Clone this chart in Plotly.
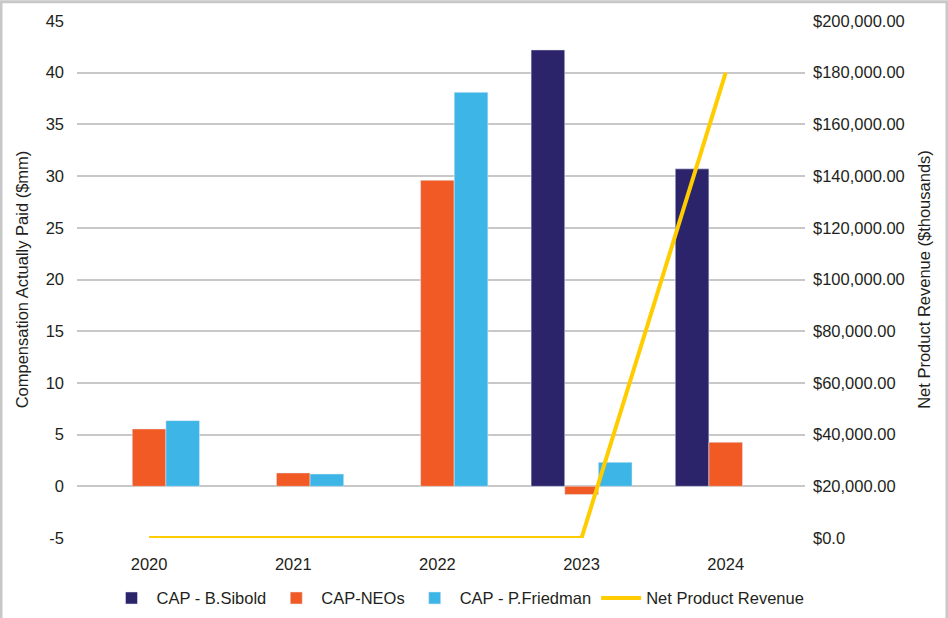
import plotly.graph_objects as go

years = ["2020", "2021", "2022", "2023", "2024"]
cap_sibold = [None, None, None, 42.2, 30.7]
cap_neos = [5.55, 1.29, 29.6, -0.8, 4.26]
cap_friedman = [6.35, 1.19, 38.1, 2.32, None]
net_revenue = [0, 0, 0, 0, 180000]

left_ticks = [-5, 0, 5, 10, 15, 20, 25, 30, 35, 40, 45]
left_labels = [str(v) for v in left_ticks]
right_ticks = [0, 20000, 40000, 60000, 80000, 100000, 120000, 140000, 160000, 180000, 200000]
right_labels = ["$0.0"] + ["${:,.2f}".format(v) for v in right_ticks[1:]]

font = "Liberation Sans, Arial, sans-serif"
txt = "#231f20"
fs = 16.5

fig = go.Figure()
fig.add_trace(go.Bar(x=years, y=cap_sibold, name="CAP - B.Sibold", marker_color="#2B246B"))
fig.add_trace(go.Bar(x=years, y=cap_neos, name="CAP-NEOs", marker_color="#F15A24"))
fig.add_trace(go.Bar(x=years, y=cap_friedman, name="CAP - P.Friedman", marker_color="#3DB5E6"))
fig.add_trace(go.Scatter(x=years, y=net_revenue, name="Net Product Revenue", mode="lines",
                         line=dict(color="#FFCC00", width=4), yaxis="y2"))

W, H = 948, 628
k = H / 618
L, R = 77, 143
T = round(21 * k)
B = H - round(535 * k)
pw, ph = W - L - R, H - T - B

fig.update_layout(
    width=W, height=H,
    margin=dict(l=L, r=R, t=T, b=B, pad=0),
    paper_bgcolor="white", plot_bgcolor="white",
    font=dict(family=font, size=fs, color=txt),
    barmode="group", bargap=0.3, bargroupgap=0,
    showlegend=True,
    legend=dict(orientation="h", x=(458 - L) / pw, xanchor="center", y=-(60 * k) / ph, yanchor="middle",
                font=dict(size=fs, color=txt), traceorder="normal", itemwidth=40),
    xaxis=dict(type="category", range=[-0.5, 4.55], showgrid=False, showline=False, zeroline=False,
               ticks="", ticklabelstandoff=14, tickfont=dict(size=fs, color=txt)),
    yaxis=dict(range=[-5, 45], tickvals=left_ticks, ticktext=left_labels, showgrid=True,
               gridcolor="#c8c8c8", gridwidth=1.5,
               zeroline=False, showline=False, ticks="", ticklabelstandoff=12,
               title=dict(text="Compensation Actually Paid ($mm)", font=dict(size=fs, color=txt), standoff=12),
               tickfont=dict(size=fs, color=txt)),
    yaxis2=dict(range=[0, 200000], overlaying="y", side="right", tickvals=right_ticks, ticktext=right_labels,
                showgrid=False, zeroline=False, showline=False, ticks="", ticklabelstandoff=7,
                title=dict(text="Net Product Revenue ($thousands)", font=dict(size=fs, color=txt), standoff=14),
                tickfont=dict(size=fs, color=txt)),
    shapes=[dict(type="rect", xref="paper", yref="paper",
                 x0=-(L - 1) / pw, x1=(W - L - 1) / pw, y0=-(B - 1.5) / ph, y1=1 + (T - 1.5) / ph,
                 line=dict(color="#c8c8c8", width=3), fillcolor="rgba(0,0,0,0)", layer="below")],
)

post = (
    "var s=document.documentElement.style;s.margin='0';s.padding='0';s.overflow='hidden';"
    "var b=document.body.style;b.margin='0';b.padding='0';b.overflow='hidden';"
)
fig.write_html("out.html", config={"displayModeBar": False}, post_script=post)
